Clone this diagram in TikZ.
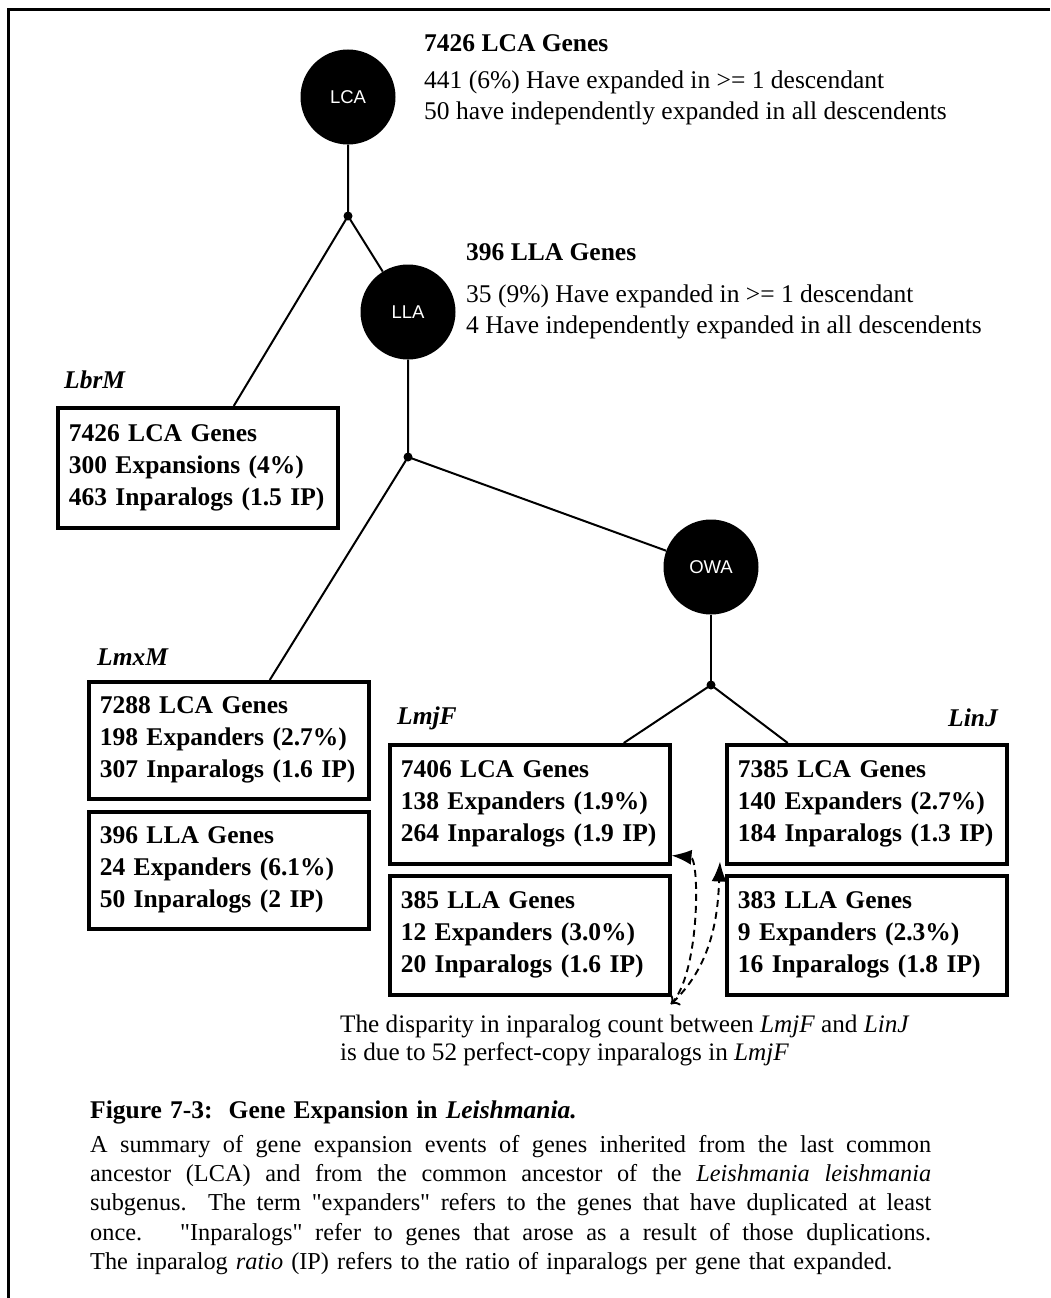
\documentclass[tikz,border=0pt]{standalone}
\usepackage{fontspec}
\setmainfont{Liberation Serif}
\newfontfamily\ancfont{Liberation Sans}
\usetikzlibrary{arrows.meta,calc,positioning}

\newcommand\fitline[1]{\leavevmode\hbox to 841pt{\spaceskip=.25em plus 1fil\xspaceskip=.4em plus 1fil\relax #1}}
\newcommand\sq{\textquotedbl}

\tikzset{
ancestor/.style={circle,fill=black,minimum size=95pt,inner sep=0pt,text=white,font=\ancfont\fontsize{18.5}{18}\selectfont},
genebox/.style={draw,line width=3.5pt,anchor=north west,text width=258pt,inner sep=11pt,align=left,font=\bfseries\fontsize{25.5}{32}\selectfont},
taxon/.style={inner sep=0pt,font=\bfseries\itshape\fontsize{25.5}{30}\selectfont},
info/.style={anchor=north west,inner sep=0pt,align=left},
branch/.style={line width=2pt},
hint/.style={line width=1.9pt,dash pattern=on 7pt off 5pt}
}

\begin{document}
\begin{tikzpicture}[x=1pt,y=-1pt]
\useasboundingbox (0,0) rectangle (1050,1298);

% page frame
\draw[line width=3pt] (1050,10) -- (8,10) -- (8,1298);

\def\genes{
lbrmA/56/406/120/{7426 LCA Genes\\300 Expansions (4\%)\\463 Inparalogs (1.5 IP)},
lmxmA/87/680/117/{7288 LCA Genes\\198 Expanders (2.7\%)\\307 Inparalogs (1.6 IP)},
lmxmB/87/810/117/{396 LLA Genes\\24 Expanders (6.1\%)\\50 Inparalogs (2 IP)},
lmjfA/388/743/119/{7406 LCA Genes\\138 Expanders (1.9\%)\\264 Inparalogs (1.9 IP)},
lmjfB/388/874/119/{385 LLA Genes\\12 Expanders (3.0\%)\\20 Inparalogs (1.6 IP)},
linjA/725/743/119/{7385 LCA Genes\\140 Expanders (2.7\%)\\184 Inparalogs (1.3 IP)},
linjB/725/874/119/{383 LLA Genes\\9 Expanders (2.3\%)\\16 Inparalogs (1.8 IP)}
}
\def\taxa{lbrmLab/64/380/west/LbrM, lmxmLab/97/657/west/LmxM, lmjfLab/397/718/west/LmjF, linjLab/998/718/east/LinJ}

% draw the ancestors
\node[ancestor] (lca) at (348,97) {LCA};
\node[ancestor] (lla) at (408,312) {LLA};
\node[ancestor] (owa) at (711,567) {OWA};

\node[info,font=\fontsize{25.5}{31}\selectfont] (lcaInfo) at (424,34)
  {\textbf{7426 LCA Genes}\\[6pt]441 (6\%) Have expanded in >= 1 descendant\\50 have independently expanded in all descendents};
\node[info,font=\fontsize{25.5}{31}\selectfont] (llaInfo) at (466,243)
  {\textbf{396 LLA Genes}\\[11pt]35 (9\%) Have expanded in >= 1 descendant\\4 Have independently expanded in all descendents};

% draw the gene boxes and species names
\foreach \nm/\bx/\by/\bh/\txt in \genes
  \node[genebox,minimum height=\bh] (\nm) at (\bx,\by) {\txt};
\foreach \nm/\tx/\ty/\anc/\sp in \taxa
  \node[taxon,anchor=\anc] (\nm) at (\tx,\ty) {\sp};

% draw the tree
\coordinate (j1) at (348,216);
\coordinate (j2) at (408,457);
\coordinate (j3) at (711,685);
\foreach \j in {j1,j2,j3} \fill (\j) circle (4.5pt);

\draw[branch] (lca) -- (j1) -- (lla);
\draw[branch] (j1) -- ([xshift=36pt]lbrmA.north);
\draw[branch] (lla) -- (j2) -- (owa);
\draw[branch] (j2) -- ([xshift=41pt]lmxmA.north);
\draw[branch] (owa) -- (j3);
\draw[branch] (j3) -- ([xshift=94pt]lmjfA.north);
\draw[branch] (j3) -- ([xshift=-79pt]linjA.north);

% draw the note on the inparalogs
\node[info,font=\fontsize{25.2}{28}\selectfont] (noteText) at (340,1015)
  {The disparity in inparalog count between \textit{LmjF} and \textit{LinJ}\\is due to 52 perfect-copy inparalogs in \textit{LmjF}};
\coordinate (noteTip) at (671,1004);
\draw[hint,-{Latex[length=20pt,width=15pt]}] (noteTip) .. controls (700,975) and (700,858) .. ([yshift=10pt]lmjfA.south east);
\draw[hint,{To[length=7pt]}-{Latex[length=20pt,width=15pt]}] (noteTip) .. controls (716,962) and (718,905) .. ([xshift=-5pt,yshift=4pt]linjA.south west);

% caption
\node[info,text width=900pt,font=\fontsize{24.3}{29.3}\selectfont] (capText) at (90,1101)
  {{\fontsize{25.5}{29}\selectfont\textbf{Figure 7-3:\ \ Gene Expansion in \textit{Leishmania.}}}\\[4pt]
   \fitline{A summary of gene expansion events of genes inherited from the last common}\\
   \fitline{ancestor (LCA) and from the common ancestor of the \textit{Leishmania leishmania}}\\
   \fitline{subgenus.\ \ The term \sq expanders\sq{} refers to the genes that have duplicated at least}\\
   \fitline{once.\ \ \ \sq Inparalogs\sq{} refer to genes that arose as a result of those duplications.}\\
   The inparalog \textit{ratio} (IP) refers to the ratio of inparalogs per gene that expanded.};

\end{tikzpicture}
\end{document}
